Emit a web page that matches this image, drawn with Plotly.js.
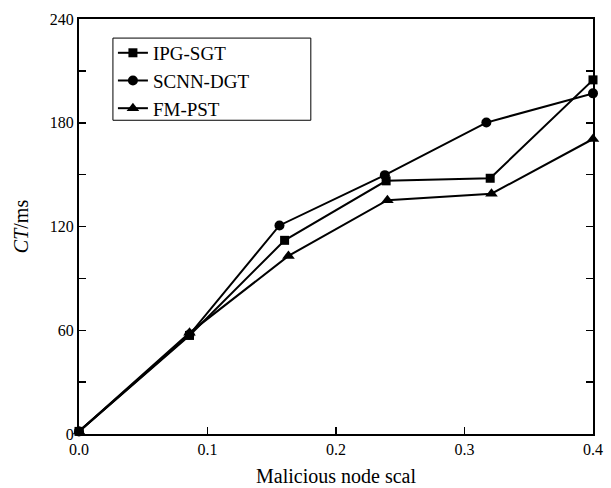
<!DOCTYPE html>
<html>
<head>
<meta charset="utf-8">
<script src="https://cdn.plot.ly/plotly-3.0.1.min.js"></script>
<style>html,body{margin:0;padding:0;background:#fff;}#chart{width:611px;height:488px;}</style>
</head>
<body>
<div id="chart"></div>
<script>
const seriesNames = ["IPG-SGT", "SCNN-DGT", "FM-PST"];
const ipgX = [0, 0.086, 0.160, 0.239, 0.320, 0.400];
const ipgY = [1.5, 57, 112, 146.4, 147.9, 204.8];
const scnnX = [0, 0.086, 0.156, 0.238, 0.317, 0.400];
const scnnY = [1.5, 57.5, 120.6, 149.7, 180.1, 197];
const fmX = [0, 0.086, 0.163, 0.240, 0.321, 0.400];
const fmY = [1.5, 58.5, 103, 135.2, 139, 170.6];
const yTickVals = [0, 30, 60, 90, 120, 150, 180, 210, 240];
const yTickText = ["0", "", "60", "", "120", "", "180", "", "240"];
const xTickVals = [0, 0.1, 0.2, 0.3, 0.4];
const xTickText = ["0.0", "0.1", "0.2", "0.3", "0.4"];

const serif = "Liberation Serif, Times New Roman, serif";
const symbols = ["square", "circle", "triangle-up"];
const sizes = [9, 10, 11];
const xs = [ipgX, scnnX, fmX];
const ys = [ipgY, scnnY, fmY];

const traces = seriesNames.map((n, i) => ({
  type: "scatter",
  mode: "lines+markers",
  name: n,
  x: xs[i],
  y: ys[i],
  cliponaxis: false,
  line: {color: "#000", width: 2},
  marker: {symbol: symbols[i], size: sizes[i], color: "#000"}
}));

const layout = {
  width: 611,
  height: 488,
  margin: {l: 79, r: 18, t: 19, b: 54},
  paper_bgcolor: "#fff",
  plot_bgcolor: "#fff",
  font: {family: serif, color: "#000", size: 16},
  showlegend: true,
  legend: {
    x: 0.066, y: 0.964, xanchor: "left", yanchor: "top",
    borderwidth: 0, bgcolor: "rgba(0,0,0,0)",
    font: {family: serif, size: 19, color: "#000"},
    tracegroupgap: 0
  },
  shapes: [{
    type: "rect", xref: "paper", yref: "paper", layer: "below",
    x0: 0.066, x1: 0.451, y0: 0.756, y1: 0.954,
    line: {color: "#000", width: 1}, fillcolor: "#fff"
  }],
  xaxis: {
    range: [0, 0.4],
    tickvals: xTickVals,
    ticktext: xTickText,
    ticks: "inside",
    ticklen: 7,
    tickwidth: 1.5,
    tickcolor: "#000",
    showline: true,
    linecolor: "#000",
    linewidth: 2,
    mirror: true,
    showgrid: false,
    zeroline: false,
    tickfont: {family: serif, size: 16, color: "#000"},
    title: {text: "Malicious node scal", font: {family: serif, size: 20, color: "#000"}, standoff: 12}
  },
  yaxis: {
    range: [0, 240],
    tickvals: yTickVals,
    ticktext: yTickText,
    ticks: "inside",
    ticklen: 7,
    tickwidth: 1.5,
    tickcolor: "#000",
    showline: true,
    linecolor: "#000",
    linewidth: 2,
    mirror: "ticks",
    showgrid: false,
    zeroline: false,
    tickfont: {family: serif, size: 16, color: "#000"},
    title: {text: "<i>CT</i>/ms", font: {family: serif, size: 20, color: "#000"}, standoff: 16}
  }
};

Plotly.newPlot("chart", traces, layout, {displayModeBar: false, staticPlot: true});
</script>
</body>
</html>
